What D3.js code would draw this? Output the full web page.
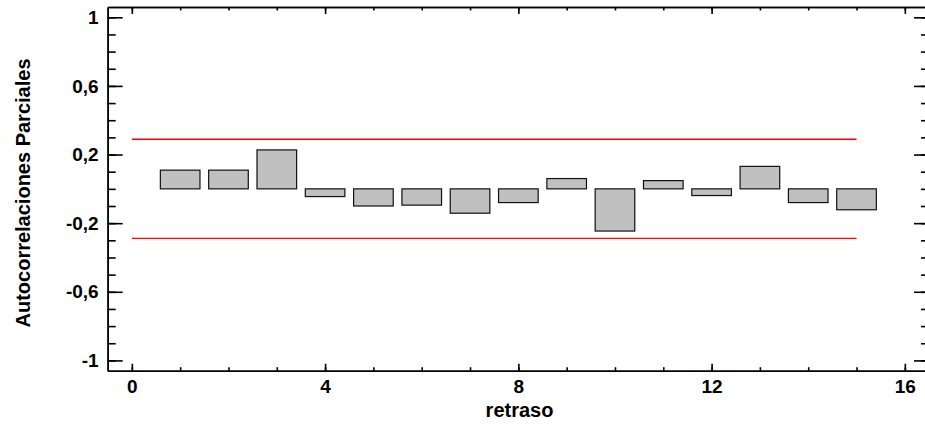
<!DOCTYPE html>
<html><head><meta charset="utf-8">
<script src="https://cdn.jsdelivr.net/npm/d3@7"></script>
<style>
html,body{margin:0;padding:0;background:#fff;}
svg{display:block;}
text{font-family:"Liberation Sans",Arial,sans-serif;font-weight:bold;}
</style></head>
<body>
<svg id="chart" width="925" height="428"></svg>
<script>
const lags = [1,2,3,4,5,6,7,8,9,10,11,12,13,14,15];
const pacf = [0.109,0.109,0.227,-0.045,-0.100,-0.095,-0.142,-0.080,0.060,-0.246,0.048,-0.039,0.131,-0.080,-0.122];
const limitUpper = 0.289;
const limitLower = -0.289;
const limitRange = [0, 15];
const xTicks = [0,4,8,12,16];
const xMinorTicks = d3.range(0,17,1);
const yTicks = [1,0.6,0.2,-0.2,-0.6,-1];
const yTickLabels = ["1","0,6","0,2","-0,2","-0,6","-1"];
const yMinorTicks = d3.range(-10,11,1).map(d=>d/10);
const xTitle = "retraso";
const yTitle = "Autocorrelaciones Parciales";

const svg = d3.select("#chart");
const L = 107.7, R = 929, T = 7, B = 370.7;
const x = d3.scaleLinear().domain([-0.5,16.5]).range([L,R]);
const y = d3.scaleLinear().domain([-1.06,1.06]).range([B,T]);
const barW = x(0.82) - x(0);

// red limit lines
svg.selectAll("line.lim").data([limitUpper,limitLower]).enter().append("line")
  .attr("x1", x(limitRange[0])).attr("x2", x(limitRange[1]))
  .attr("y1", d=>y(d)).attr("y2", d=>y(d))
  .attr("stroke","#ff0000").attr("stroke-width",1.3);

// bars
svg.selectAll("rect.bar").data(lags).enter().append("rect")
  .attr("x", (d)=>x(d)-barW/2)
  .attr("width", barW)
  .attr("y", (d,i)=>y(Math.max(0,pacf[i])))
  .attr("height", (d,i)=>Math.abs(y(pacf[i])-y(0)))
  .attr("fill","#c0c0c0").attr("stroke","#111").attr("stroke-width",1.2);

function styleAxis(g){
  g.selectAll("path,line").attr("stroke","#000").attr("stroke-width",1.6);
  g.selectAll("text").attr("fill","#000").style("font-size","19px");
}

// left axis
const gl = svg.append("g").attr("transform",`translate(${L},0)`)
  .call(d3.axisLeft(y).tickValues(yTicks).tickFormat((d,i)=>yTickLabels[i]).tickSizeInner(-15).tickSizeOuter(0).tickPadding(9));
styleAxis(gl);
const glm = svg.append("g").attr("transform",`translate(${L},0)`)
  .call(d3.axisLeft(y).tickValues(yMinorTicks).tickFormat("").tickSizeInner(-8).tickSizeOuter(0));
styleAxis(glm);
// right axis
const gr = svg.append("g").attr("transform",`translate(${R},0)`)
  .call(d3.axisRight(y).tickValues(yTicks).tickFormat("").tickSizeInner(-15).tickSizeOuter(0));
styleAxis(gr);
const grm = svg.append("g").attr("transform",`translate(${R},0)`)
  .call(d3.axisRight(y).tickValues(yMinorTicks).tickFormat("").tickSizeInner(-8).tickSizeOuter(0));
styleAxis(grm);
// bottom axis
const gb = svg.append("g").attr("transform",`translate(0,${B})`)
  .call(d3.axisBottom(x).tickValues(xTicks).tickFormat(d3.format("d")).tickSizeInner(-7).tickSizeOuter(0).tickPadding(9));
styleAxis(gb);
const gbm = svg.append("g").attr("transform",`translate(0,${B})`)
  .call(d3.axisBottom(x).tickValues(xMinorTicks).tickFormat("").tickSizeInner(-3.5).tickSizeOuter(0));
styleAxis(gbm);
// top axis
const gt = svg.append("g").attr("transform",`translate(0,${T})`)
  .call(d3.axisTop(x).tickValues(xTicks).tickFormat("").tickSizeInner(-7).tickSizeOuter(0));
styleAxis(gt);
const gtm = svg.append("g").attr("transform",`translate(0,${T})`)
  .call(d3.axisTop(x).tickValues(xMinorTicks).tickFormat("").tickSizeInner(-3.5).tickSizeOuter(0));
styleAxis(gtm);

// titles
svg.append("text").attr("x", 519.5).attr("y", 417)
  .attr("text-anchor","middle").style("font-size","20px").text(xTitle);
svg.append("text").attr("transform","translate(30,193) rotate(-90)")
  .attr("text-anchor","middle").style("font-size","20px").text(yTitle);
</script>
</body></html>
